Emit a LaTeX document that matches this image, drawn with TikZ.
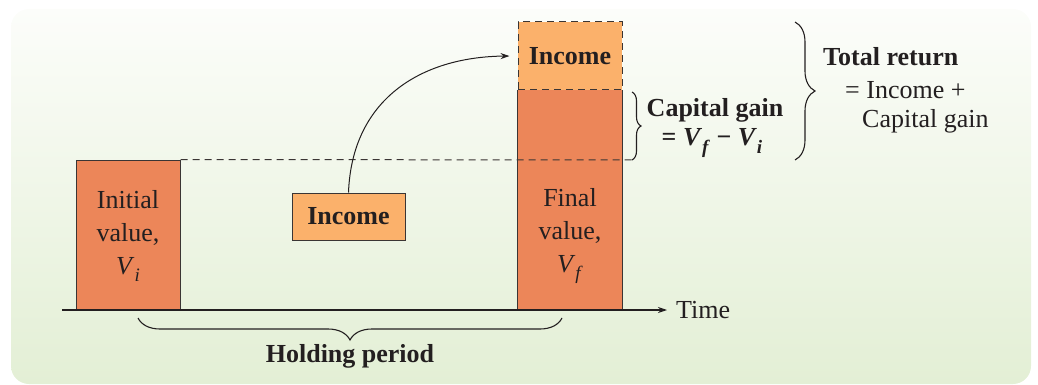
\documentclass[tikz,border=0pt]{standalone}
\usepackage{fontspec}
\setmainfont{Liberation Serif}
\usetikzlibrary{decorations.pathreplacing,arrows.meta}
\definecolor{darkor}{HTML}{EC8659}
\definecolor{lightor}{HTML}{FBB16B}
\definecolor{ink}{HTML}{231F20}
\definecolor{bgtop}{HTML}{FCFDFA}
\definecolor{bgbot}{HTML}{E3EFD5}
\definecolor{edge}{HTML}{3A3534}
\tikzset{
  x=1pt,y=-1pt,
  txt/.style={font=\fontsize{26}{33}\selectfont, text=ink, inner sep=0pt, align=center},
  valbox/.style={fill=darkor, draw=edge, line width=1pt, inner sep=0pt},
  incbox/.style={fill=lightor, draw=edge, line width=1pt, inner sep=0pt, font=\fontsize{26}{33}\selectfont\bfseries, text=ink},
  bracestyle/.style={draw=ink, line width=1.1pt, decorate},
  conn/.style={draw=ink, line width=1pt}
}
\newcommand{\sub}[1]{\raisebox{-0.28em}{\fontsize{19}{20}\selectfont #1}}
\begin{document}
\begin{tikzpicture}
\useasboundingbox (0,0) rectangle (1038,385);
\shade[top color=bgtop, bottom color=bgbot, rounded corners=18pt] (11,9) rectangle (1031,384);
% dashed reference line
\coordinate (dashend) at (635,160);
% left box
\node[valbox, minimum width=104, minimum height=150] (init) at (128,235) {};
\node[txt] (inittxt) at (128,236) {Initial\\value,\\\textit{V}\sub{\textit{i}}};
% right lower box
\node[fill=darkor, inner sep=0pt, minimum width=104, minimum height=220] (fin) at (570,200) {};
\draw[edge, line width=1pt] (fin.north west) -- (fin.south west) -- (fin.south east) -- (fin.north east);
\node[txt] (fintxt) at (570,236) {Final\\value,\\\textit{V}\sub{\textit{f}}};
% top income box
\node[incbox, dashed, dash pattern=on 7pt off 5pt, minimum width=104, minimum height=68] (topinc) at (570,56) {Income};
% dashed line
\draw[edge, line width=1pt, dash pattern=on 7pt off 5pt] (init.north east) -- (dashend);
% middle income
\node[incbox, minimum width=113, minimum height=47] (midinc) at (348.5,216.5) {Income};
% curved arrow
\draw[conn, -{Stealth[length=9pt,width=6pt]}] (midinc.north) .. controls (352,100) and (420,57) .. ([xshift=-8]topinc.west);
% axis
\coordinate (ax0) at (62,310);
\coordinate (ax1) at (667,310);
\draw[ink, line width=1.2pt, -{Stealth[length=9pt,width=6pt]}] (ax0) -- (ax1);
\node[txt, anchor=west] (time) at (676,310) {Time};
% bottom brace
\coordinate (hb0) at (562,318);
\coordinate (hb1) at (138,318);
\draw[bracestyle, decoration={brace, amplitude=22pt}] (hb0) -- (hb1);
\node[txt, font=\fontsize{26}{33}\selectfont\bfseries] (hold) at (350,356) {Holding period};
% small brace
\coordinate (sb0) at (632,92);
\coordinate (sb1) at (632,160);
\draw[bracestyle, decoration={brace, amplitude=9pt}] (sb0) -- (sb1);
\node[txt, font=\fontsize{26}{33}\selectfont\bfseries] (cg) at (715,110) {Capital gain};
\node[txt, font=\fontsize{26}{33}\selectfont\bfseries] (cgeq) at (712,143) {= \textit{V}\sub{\textit{f}} − \textit{V}\sub{\textit{i}}};
% big brace
\coordinate (bb0) at (795,22);
\coordinate (bb1) at (795,160);
\draw[bracestyle, decoration={brace, amplitude=20pt}] (bb0) -- (bb1);
\node[txt, anchor=west, font=\fontsize{26}{33}\selectfont\bfseries] (tr) at (823,57) {Total return};
\node[txt, anchor=west] (tr1) at (845,90) {= Income +};
\node[txt, anchor=west] (tr2) at (862,121) {Capital gain};
\end{tikzpicture}
\end{document}
